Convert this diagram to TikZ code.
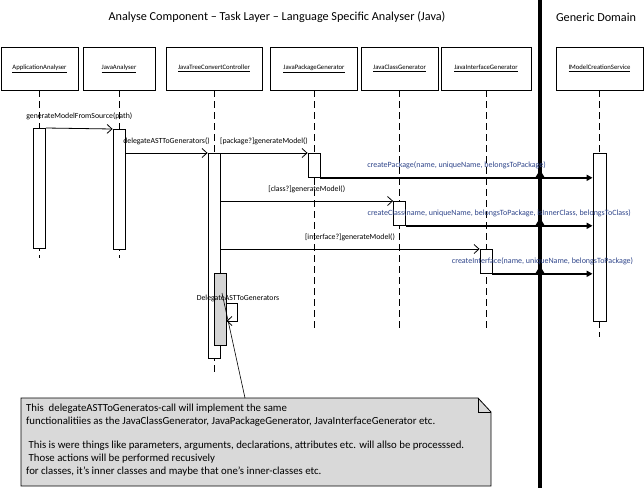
\documentclass[tikz,border=0pt]{standalone}
\usepackage{fontspec}
\setmainfont{Carlito}
\usetikzlibrary{arrows.meta}

\definecolor{msgblue}{RGB}{47,69,138}
\definecolor{notegrey}{RGB}{217,217,217}
\definecolor{actgrey}{RGB}{212,212,212}

\begin{document}
\begin{tikzpicture}[x=1pt, y=-1pt,
    head/.style={draw, line width=0.8pt, minimum height=43pt, inner sep=0pt, font=\fontsize{6.7}{8}\selectfont},
    life/.style={line width=0.8pt, dash pattern=on 7pt off 4pt},
    act/.style={draw, fill=white, line width=0.8pt, minimum width=12pt, inner sep=0pt, anchor=north},
    call/.style={line width=0.8pt, -{Straight Barb[length=5pt, width=9pt]}},
    create/.style={line width=2pt, -{Triangle[length=6pt, width=6pt]}},
    lbl/.style={font=\fontsize{7.8}{9}\selectfont, inner sep=1pt},
    blbl/.style={lbl, font=\fontsize{8}{9}\selectfont, text=msgblue}
]
    \useasboundingbox (0,0) rectangle (644,488);

    % Titles
    \node[font=\fontsize{12.2}{14}\selectfont] (title) at (277,17) {Analyse Component -- Task Layer -- Language Specific Analyser (Java)};
    \node[font=\fontsize{12.2}{14}\selectfont] (domain) at (596,17) {Generic Domain};

    % Divider between the two domains
    \draw[line width=4pt] (540,0) -- (540,488);

    % Lifeline heads
    \node[head, minimum width=77pt] (appAna) at (39.5,68.5) {\underline{ApplicationAnalyser}};
    \node[head, minimum width=72pt] (javaAna) at (119,68.5) {\underline{JavaAnalyser}};
    \node[head, minimum width=96pt] (treeCtrl) at (214,68.5) {\underline{JavaTreeConvertController}};
    \node[head, minimum width=87pt] (pkgGen) at (314,68.5) {\underline{JavaPackageGenerator}};
    \node[head, minimum width=77pt] (clsGen) at (399.5,68.5) {\underline{JavaClassGenerator}};
    \node[head, minimum width=90pt] (ifGen) at (486,68.5) {\underline{JavaInterfaceGenerator}};
    \node[head, minimum width=87pt] (modelSrv) at (599.5,68.5) {\underline{IModelCreationService}};

    % Lifelines
    \foreach \n/\e in {appAna/258, javaAna/258, treeCtrl/373, pkgGen/330, clsGen/330, ifGen/330, modelSrv/337}
        \draw[life] (\n.south) -- (\n.south |- 0,\e);

    % Activations
    \node[act, minimum height=120pt] (actApp) at (appAna |- 0,128) {};
    \node[act, minimum height=120pt] (actJava) at (javaAna |- 0,129) {};
    \node[act, minimum height=205pt] (actTree) at (treeCtrl |- 0,153) {};
    \node[act, minimum height=24pt] (actPkg) at (pkgGen |- 0,153) {};
    \node[act, minimum height=24pt] (actCls) at (clsGen |- 0,201) {};
    \node[act, minimum height=24pt] (actIf) at (ifGen |- 0,249) {};
    \node[act, minimum height=168pt, minimum width=13pt] (actSrv) at (modelSrv |- 0,153) {};
    \node[act, minimum height=72pt, fill=actgrey] (actSelf) at ([xshift=6pt]treeCtrl |- 0,273) {};

    % Calls
    \draw[call] (actApp.north east) -- (actJava.north west)
        node[lbl, midway, above=7pt] (m1) {generateModelFromSource(path)};
    \draw[call] (actJava.east |- actTree.north) -- (actTree.north west)
        node[lbl, midway, above=7pt] (m2) {delegateASTToGenerators()};
    \draw[call] (actTree.north east) -- (actPkg.north west)
        node[lbl, midway, above=7pt] (m3) {[package?]generateModel()};
    \draw[call] (actTree.east |- actCls.north) -- (actCls.north west)
        node[lbl, midway, above=7pt] (m5) {[class?]generateModel()};
    \draw[call] (actTree.east |- actIf.north) -- (actIf.north west)
        node[lbl, midway, above=7pt] (m7) {[interface?]generateModel()};

    % Create calls into the generic domain
    \draw[create] (actPkg.south east) -- (actSrv.west |- actPkg.south)
        node[blbl, midway, above=7pt] (m4) {createPackage(name, uniqueName, belongsToPackage)};
    \draw[create] (actCls.south east) -- (actSrv.west |- actCls.south)
        node[blbl, midway, above=7pt] (m6) {createClass(name, uniqueName, belongsToPackage, isInnerClass, belongsToClass)};
    \draw[create] (actIf.south east) -- (actSrv.west |- actIf.south)
        node[blbl, midway, above=7pt] (m8) {createInterface(name, uniqueName, belongsToPackage)};
    \foreach \y in {177,225,273}
        \fill (535,\y+1) -- (540,\y-7) -- (545,\y+1) -- cycle;

    % Self call
    \coordinate (selfA) at (actSelf.east |- 0,303);
    \coordinate (selfB) at (actSelf.east |- 0,321);
    \draw[call] (selfA) -- ++(11,0) |- (selfB);
    \node[lbl] (selfLbl) at (238,298) {DelegateASTToGenerators};

    % Note
    \draw[line width=0.8pt, fill=notegrey] (21,398) -- (478,398) -- (491,412) -- (491,486) -- (21,486) -- cycle;
    \draw[line width=0.8pt] (478,398) |- (491,412);
    \node[anchor=north west, align=left, inner sep=0pt, font=\fontsize{10.8}{13}\selectfont] (noteTxt) at (26,404)
        {This \ delegateASTToGeneratos-call will implement the same\\
         functionalitiies as the JavaClassGenerator, JavaPackageGenerator, JavaInterfaceGenerator etc.\\[11pt]
         ~This is were things like parameters, arguments, declarations, attributes etc. will allso be processsed.\\
         ~Those actions will be performed recusively\\
         for classes, it's inner classes and maybe that one's inner-classes etc.};
    \coordinate (noteTip) at (245,398);
    \coordinate (noteEnd) at (222,293);
    \draw[line width=0.6pt] (noteTip) -- (noteEnd);
\end{tikzpicture}
\end{document}
